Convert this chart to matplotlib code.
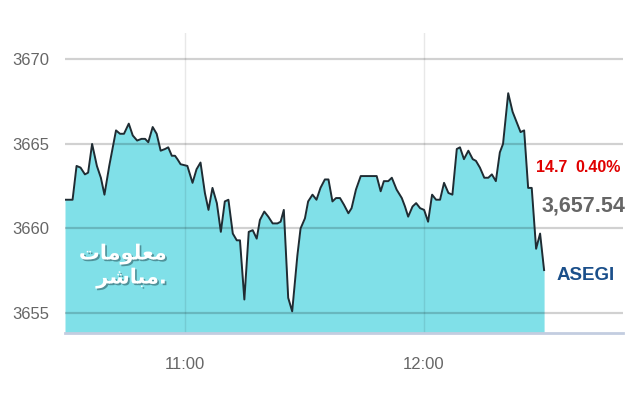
import matplotlib
matplotlib.use("Agg")
import matplotlib.pyplot as plt
import matplotlib.patheffects as pe

# minutes after 10:30 and index level
minutes = [
    0.0, 1.9, 2.9, 3.9, 5.0, 5.8, 6.8, 8.0, 9.0, 9.9, 11.1, 12.8, 13.8, 14.8,
    16.0, 17.0, 18.1, 19.2, 20.1, 20.9, 22.0, 23.0, 24.0, 25.1, 25.9, 26.8,
    27.6, 28.2, 29.0, 30.7, 32.0, 33.0, 34.0, 35.1, 36.0, 37.0, 38.1, 39.1,
    40.1, 41.0, 42.1, 43.1, 43.9, 45.0, 46.1, 47.1, 48.1, 48.9, 50.0, 51.0,
    52.1, 53.3, 54.1, 54.9, 56.0, 57.0, 58.3, 59.1, 60.2, 61.0, 62.1, 63.1,
    64.1, 65.2, 66.1, 67.1, 68.0, 69.0, 70.0, 71.1, 71.9, 73.0, 74.2, 75.2,
    76.2, 77.2, 78.2, 79.2, 80.0, 81.1, 82.0, 83.2, 84.5, 85.3, 86.1, 87.2,
    88.1, 89.1, 90.1, 91.1, 92.1, 93.1, 94.1, 95.1, 96.2, 97.2, 98.3, 99.1,
    100.1, 101.2, 102.3, 103.1, 104.1, 105.2, 106.2, 107.1, 108.1, 109.1,
    109.9, 111.2, 112.3, 113.3, 114.3, 115.2, 116.2, 117.1, 118.2, 119.2, 120.2,
]
values = [
    3661.7, 3661.7, 3663.7, 3663.6, 3663.2, 3663.3, 3665.0, 3663.7, 3663.0,
    3662.0, 3663.7, 3665.8, 3665.6, 3665.6, 3666.2, 3665.5, 3665.2, 3665.3,
    3665.3, 3665.1, 3666.0, 3665.6, 3664.6, 3664.7, 3664.8, 3664.3, 3664.3,
    3664.1, 3663.8, 3663.7, 3662.7, 3663.5, 3663.9, 3662.1, 3661.1, 3662.4,
    3661.5, 3659.8, 3661.6, 3661.7, 3659.7, 3659.3, 3659.3, 3655.8, 3659.8,
    3659.9, 3659.4, 3660.5, 3661.0, 3660.7, 3660.3, 3660.3, 3660.4, 3661.1,
    3655.9, 3655.1, 3658.4, 3660.0, 3660.6, 3661.6, 3662.0, 3661.7, 3662.4,
    3662.9, 3662.9, 3661.6, 3661.8, 3661.8, 3661.4, 3660.9, 3661.2, 3662.3,
    3663.1, 3663.1, 3663.1, 3663.1, 3663.1, 3662.2, 3662.8, 3662.8, 3663.0,
    3662.3, 3661.8, 3661.3, 3660.7, 3661.3, 3661.5, 3661.2, 3661.1, 3660.4,
    3662.0, 3661.7, 3661.7, 3662.7, 3662.1, 3662.0, 3664.7, 3664.8, 3664.1,
    3664.6, 3664.1, 3664.0, 3663.6, 3663.0, 3663.0, 3663.2, 3662.8, 3664.5,
    3665.0, 3668.0, 3666.9, 3666.3, 3665.7, 3665.8, 3662.4, 3662.4, 3658.8,
    3659.7, 3657.54,
]

y_ticks = [3655, 3660, 3665, 3670]
x_ticks = [30, 90]
x_labels = ["11:00", "12:00"]

index_name = "ASEGI"
last_value = "3,657.54"
change = "14.7"
change_pct = "0.40%"

plt.rcParams["font.family"] = ["Liberation Sans", "DejaVu Sans"]

fill_color = "#80e0e8"
line_color = "#1f2c33"
label_gray = "#666666"

fig = plt.figure(figsize=(6.4, 4.0), dpi=100)
ax = fig.add_axes([65 / 640, 1 - 333 / 400, 558 / 640, 300 / 400])

y_bottom = 3653.82
ax.fill_between(minutes, values, y_bottom, color=fill_color, linewidth=0, zorder=1)
ax.plot(minutes, values, color=line_color, linewidth=1.4, zorder=3)

ax.set_xlim(0, 140)
ax.set_ylim(y_bottom, 3671.56)

for v in y_ticks:
    ax.axhline(v, color="black", alpha=0.18, linewidth=1.6, zorder=2)
for t in x_ticks:
    ax.axvline(t, color="black", alpha=0.09, linewidth=1.0, zorder=2)

ax.set_yticks(y_ticks)
ax.set_yticklabels([str(v) for v in y_ticks])
ax.set_xticks(x_ticks)
ax.set_xticklabels(x_labels)
ax.tick_params(axis="y", length=0, pad=11.5, labelsize=12, labelcolor=label_gray)
ax.tick_params(axis="x", length=0, pad=17, labelsize=12, labelcolor=label_gray)

for side in ["top", "right", "left"]:
    ax.spines[side].set_visible(False)
ax.spines["bottom"].set_color("#c3cde0")
ax.spines["bottom"].set_linewidth(2)

# right side labels
fig.text(536 / 640, 1 - 168 / 400, change, color="#e00000", fontsize=11.5,
         fontweight="bold", ha="left", va="center")
fig.text(621 / 640, 1 - 168 / 400, change_pct, color="#e00000", fontsize=11.5,
         fontweight="bold", ha="right", va="center")
fig.text(625 / 640, 1 - 206 / 400, last_value, color=label_gray, fontsize=15.5,
         fontweight="bold", ha="right", va="center")
fig.text(615 / 640, 1 - 276 / 400, index_name, color="#1a4f8a", fontsize=13.5,
         fontweight="bold", ha="right", va="center")

# watermark (Arabic, pre-shaped in visual order)
wm1 = "\ufe95\ufe8e\ufee3\ufeee\ufee0\ufecc\ufee3"
wm2 = "\ufeae\ufeb7\ufe8e\ufe92\ufee3."
shadow = [pe.withSimplePatchShadow(offset=(1.2, -1.2), shadow_rgbFace="#2f5f66", alpha=0.6)]
for txt, yy in [(wm1, 254), (wm2, 278)]:
    fig.text(167 / 640, 1 - yy / 400, txt, color="white", fontsize=15,
             fontweight="bold", ha="right", va="center", family="DejaVu Sans",
             path_effects=shadow, zorder=5)

fig.savefig("out.png", dpi=100)
